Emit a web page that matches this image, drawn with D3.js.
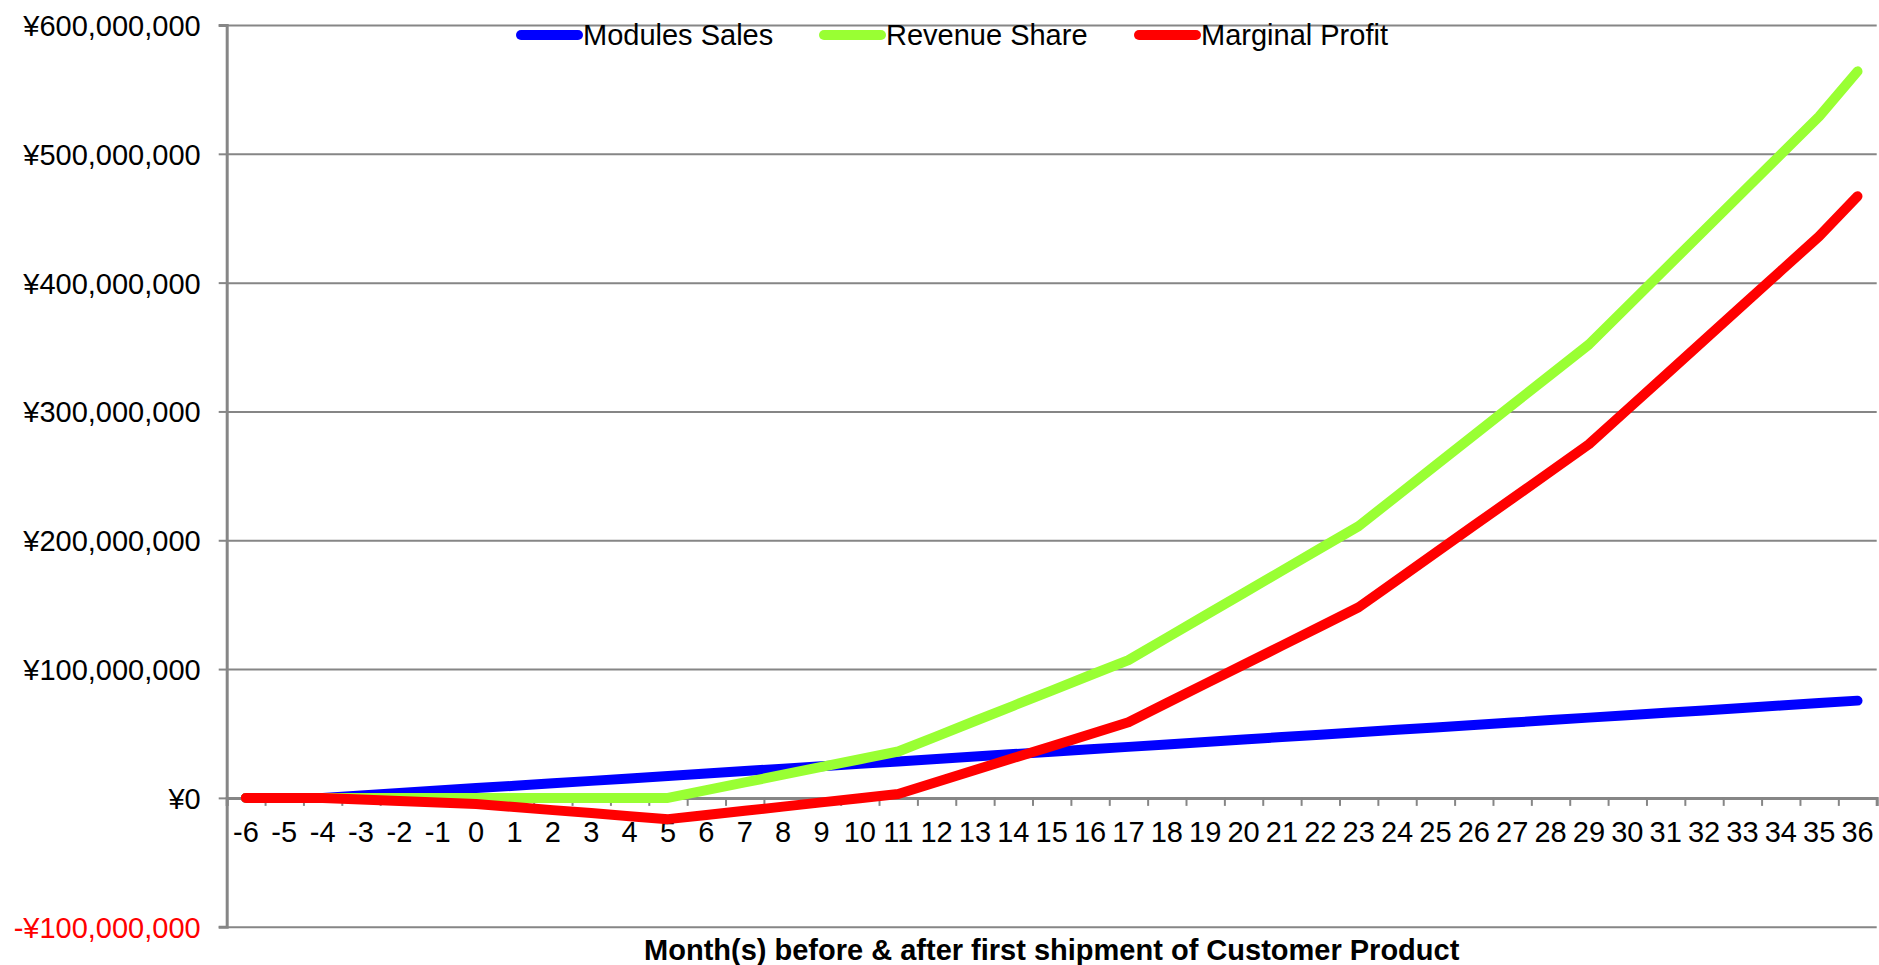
<!DOCTYPE html>
<html>
<head>
<meta charset="utf-8">
<script src="https://cdn.jsdelivr.net/npm/d3@7"></script>
<style>
  body { margin: 0; background: #fff; }
  svg text { font-family: "Liberation Sans", Arial, sans-serif; }
  .grid line { stroke: #868686; stroke-width: 2; }
  .grid path { display: none; }
</style>
</head>
<body>
<div id="chart"></div>
<script>
// months before / after first shipment
var months = d3.range(-6, 37);

// series values, yen (millions)
var modulesSales = [0, 0, 0, 1.9, 3.8, 5.7, 7.6, 9.4, 11.3, 13.2, 15.1, 17.0, 18.9, 20.8, 22.7, 24.5, 26.4, 28.3,
	30.2, 32.1, 34.0, 35.9, 37.8, 39.6, 41.5, 43.4, 45.3, 47.2, 49.1, 51.0, 52.9, 54.7, 56.6, 58.5, 60.4, 62.3,
	64.2, 66.1, 67.9, 69.8, 71.7, 73.6, 75.5];
var revenueShare = [0, 0, 0, 0, 0, 0, 0, 0, 0, 0, 0, 0, 6, 12, 18, 24, 30, 36,
	47.8, 59.7, 71.5, 83.3, 95.2, 107, 124.3, 141.7, 159, 176.3, 193.7, 211, 234.5, 258, 281.5, 305, 328.5, 352,
	381.5, 411, 440.5, 470, 499.5, 529, 564];
var marginalProfit = [0, 0, 0, -1.2, -2.4, -3.6, -4.8, -7.1, -9.5, -11.8, -14.2, -16.5, -13.3, -10, -6.8, -3.5, -0.3, 3,
	12.3, 21.6, 30.9, 40.1, 49.4, 58.7, 73.6, 88.5, 103.3, 118.2, 133.1, 148, 169.1, 190.2, 211.3, 232.3, 253.4, 274.5,
	301.4, 328.3, 355.3, 382.2, 409.1, 436, 467];

var seriesNames = ["Modules Sales", "Revenue Share", "Marginal Profit"];
var seriesColors = ["#0000ff", "#99ff33", "#ff0000"];
var yTicks = [-100, 0, 100, 200, 300, 400, 500, 600];
var xTitle = "Month(s) before & after first shipment of Customer Product";

var W = 1879, H = 965;
var margin = { left: 226.7, right: 2.3, top: 25, bottom: 38.3 };
var width = W - margin.left - margin.right;
var height = H - margin.top - margin.bottom;

var svg = d3.select("#chart").append("svg")
	.attr("width", W)
	.attr("height", H);

var g = svg.append("g")
	.attr("transform", "translate(" + margin.left + "," + margin.top + ")");

// scales
var x = d3.scaleBand()
	.domain(months)
	.range([0, width])
	.padding(0);

var xEdge = d3.scaleLinear()
	.domain([0, months.length])
	.range([0, width]);

var y = d3.scaleLinear()
	.domain([-100, 600])
	.range([height, 0]);

var fmtYen = function(d){
	var s = "¥" + d3.format(",")(Math.abs(d) * 1e6);
	return d < 0 ? "-" + s : s;
};

// horizontal gridlines
g.append("g")
	.attr("class", "grid")
	.call(d3.axisLeft(y)
		.tickValues(yTicks)
		.tickSize(-width)
		.tickFormat(""));

// y axis
var yAxis = g.append("g")
	.call(d3.axisLeft(y)
		.tickValues(yTicks)
		.tickSize(8)
		.tickPadding(18)
		.tickFormat(fmtYen));
yAxis.select(".domain").attr("stroke", "#868686").attr("stroke-width", 3);
yAxis.selectAll(".tick line").attr("stroke", "#868686").attr("stroke-width", 2);
yAxis.selectAll("text")
	.attr("font-size", "29px")
	.attr("dy", "0.36em")
	.attr("fill", function(d){ return d < 0 ? "#ff0000" : "#000"; });

// x axis at zero: tick marks between categories
var xTickG = g.append("g")
	.attr("transform", "translate(0," + y(0) + ")")
	.call(d3.axisBottom(xEdge)
		.tickValues(d3.range(0, months.length + 1))
		.tickSize(8)
		.tickFormat(""));
xTickG.select(".domain").attr("stroke", "#868686").attr("stroke-width", 3);
xTickG.selectAll(".tick line").attr("stroke", "#868686").attr("stroke-width", 2);

// x labels
var xLab = g.append("g")
	.attr("transform", "translate(0," + y(0) + ")")
	.call(d3.axisBottom(x).tickSize(0).tickPadding(0));
xLab.select(".domain").remove();
xLab.selectAll("text")
	.attr("font-size", "29px")
	.attr("y", 44.5)
	.attr("dy", 0)
	.attr("fill", "#000");

// x title
g.append("text")
	.attr("x", width / 2)
	.attr("y", height + 33)
	.attr("text-anchor", "middle")
	.attr("font-size", "29px")
	.attr("font-weight", "bold")
	.attr("fill", "#000")
	.text(xTitle);

// lines
var allSeries = [modulesSales, revenueShare, marginalProfit];
var line = d3.line()
	.x(function(d, i){ return x(months[i]) + x.bandwidth() / 2; })
	.y(function(d){ return y(d); });

allSeries.forEach(function(vals, k){
	g.append("path")
		.datum(vals)
		.attr("fill", "none")
		.attr("stroke", seriesColors[k])
		.attr("stroke-width", 10)
		.attr("stroke-linecap", "round")
		.attr("stroke-linejoin", "round")
		.attr("d", line);
});

// legend
var legendX = [521, 824, 1139];
var legend = svg.append("g");
seriesNames.forEach(function(name, k){
	legend.append("line")
		.attr("x1", legendX[k])
		.attr("x2", legendX[k] + 57)
		.attr("y1", 35)
		.attr("y2", 35)
		.attr("stroke", seriesColors[k])
		.attr("stroke-width", 10)
		.attr("stroke-linecap", "round");
	legend.append("text")
		.attr("x", legendX[k] + 62)
		.attr("y", 45)
		.attr("font-size", "29px")
		.attr("fill", "#000")
		.text(name);
});
</script>
</body>
</html>
